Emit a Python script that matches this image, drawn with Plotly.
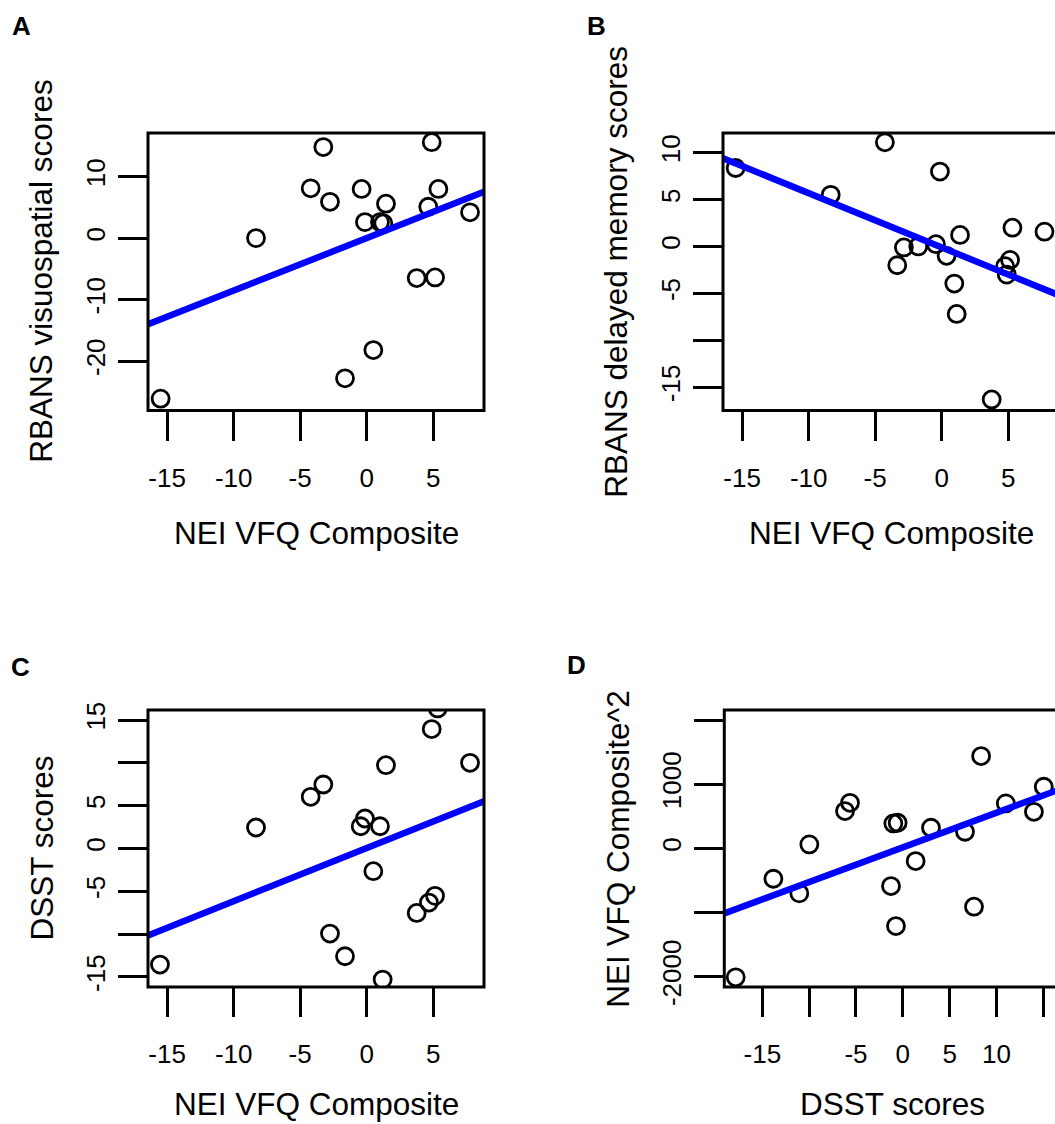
import plotly.graph_objects as go

W, H = 1055, 1124
FONT = "Arial, 'Liberation Sans', Helvetica, sans-serif"

# ---------------- data ----------------
# Panel A: NEI VFQ Composite vs RBANS visuospatial scores
a_x = [-15.49, -8.32, -4.21, -3.26, -2.76, -1.63, -0.38, -0.13, 0.5, 1.0, 1.25, 1.45, 3.76, 4.63, 4.89, 5.14, 5.39, 7.77]
a_y = [-26.1, 0.0, 8.1, 14.8, 5.9, -22.8, 8.0, 2.6, -18.2, 2.6, 2.4, 5.6, -6.5, 5.1, 15.6, -6.4, 8.0, 4.2]
a_fit = [0.0, 0.853]          # intercept, slope

# Panel B: NEI VFQ Composite vs RBANS delayed memory scores
b_x = [-15.49, -8.34, -4.27, -0.13, -3.34, -2.84, -1.76, -0.43, 0.37, 1.38, 0.95, 1.13, 3.76, 5.32, 5.14, 4.77, 4.89, 7.73]
b_y = [8.36, 5.5, 11.1, 7.98, -2.0, -0.1, 0.0, 0.24, -1.0, 1.23, -3.95, -7.19, -16.3, 2.0, -1.43, -2.1, -3.0, 1.58]
b_fit = [-0.1, -0.578]

# Panel C: NEI VFQ Composite vs DSST scores
c_x = [-15.54, -8.32, -4.21, -3.26, -2.76, -1.63, -0.45, -0.13, 0.5, 1.0, 1.2, 1.45, 3.76, 4.68, 4.89, 5.14, 5.34, 7.77]
c_y = [-13.55, 2.45, 6.03, 7.47, -9.93, -12.58, 2.6, 3.5, -2.65, 2.6, -15.3, 9.73, -7.52, -6.31, 13.94, -5.53, 16.35, 10.0]
c_fit = [0.05, 0.62]

# Panel D: DSST scores vs NEI VFQ Composite^2
d_x = [-17.84, -13.82, -11.05, -9.98, -6.17, -5.64, -1.26, -1.01, -0.55, -0.73, 1.37, 3.01, 6.64, 7.6, 8.36, 11.0, 14.0, 15.05]
d_y = [-2009, -473, -701, 62, 581, 710, -587, 389, 399, -1210, -198, 321, 259, -909, 1438, 701, 570, 960]
d_fit = [15.0, 54.0]

# tick values / labels
nei_ticks = [-15, -10, -5, 0, 5]
nei_labels = ["-15", "-10", "-5", "0", "5"]
a_yticks = [-20, -10, 0, 10]
a_ylabels = ["-20", "-10", "0", "10"]
b_yticks = [-15, -10, -5, 0, 5, 10]
b_ylabels = ["-15", "", "-5", "0", "5", "10"]
c_yticks = [-15, -10, -5, 0, 5, 10, 15]
c_ylabels = ["-15", "", "-5", "0", "5", "", "15"]
d_xticks = [-15, -10, -5, 0, 5, 10, 15]
d_xlabels = ["-15", "", "-5", "0", "5", "10", ""]
d_yticks = [-2000, -1000, 0, 1000, 2000]
d_ylabels = ["-2000", "", "0", "1000", ""]

# ---------------- layout (pixel geometry) ----------------
panels = [
    dict(x=a_x, y=a_y, fit=a_fit, xdom=(148, 484), ydom=(133, 410.5),
         xr=(-16.44, 8.82), yr=(-28.03, 17.09),
         xt=(nei_ticks, nei_labels), yt=(a_yticks, a_ylabels),
         xtitle="NEI VFQ Composite", ytitle="RBANS visuospatial scores",
         letter="A", lpos=(21.5, 25.5), open_right=False, xt_off=122),
    dict(x=b_x, y=b_y, fit=b_fit, xdom=(723, 1055), ydom=(133, 410.5),
         xr=(-16.44, 8.52), yr=(-17.48, 12.09),
         xt=(nei_ticks, nei_labels), yt=(b_yticks, b_ylabels),
         xtitle="NEI VFQ Composite", ytitle="RBANS delayed memory scores",
         letter="B", lpos=(596, 25.5), open_right=True, xt_off=122),
    dict(x=c_x, y=c_y, fit=c_fit, xdom=(148, 484), ydom=(710, 987),
         xr=(-16.44, 8.82), yr=(-16.17, 16.17),
         xt=(nei_ticks, nei_labels), yt=(c_yticks, c_ylabels),
         xtitle="NEI VFQ Composite", ytitle="DSST scores",
         letter="C", lpos=(20.5, 667), open_right=False, xt_off=117),
    dict(x=d_x, y=d_y, fit=d_fit, xdom=(724.3, 1055), ydom=(710, 987),
         xr=(-19.06, 16.25), yr=(-2160, 2156),
         xt=(d_xticks, d_xlabels), yt=(d_yticks, d_ylabels),
         xtitle="DSST scores", ytitle="NEI VFQ Composite^2",
         letter="D", lpos=(576.5, 665), open_right=True, xt_off=117),
]

# box width in px for open-right panels (box continues past the page edge)
FULL_BOX_W = 336

fig = go.Figure()
layout = dict(
    width=W, height=H, margin=dict(l=0, r=0, t=0, b=0),
    paper_bgcolor="white", plot_bgcolor="white",
    showlegend=False, font=dict(family=FONT, color="black"),
)
shapes = []
annotations = []

for i, p in enumerate(panels, start=1):
    sx = "" if i == 1 else str(i)
    xa, ya = "x" + sx, "y" + sx
    x0, x1 = p["xdom"]
    y0, y1 = p["ydom"]
    layout["xaxis" + sx] = dict(
        domain=[x0 / W, x1 / W], range=list(p["xr"]), anchor=ya,
        tickmode="array", tickvals=p["xt"][0], ticktext=p["xt"][1],
        ticks="outside", ticklen=29, tickwidth=3, tickcolor="black",
        showgrid=False, zeroline=False, showline=False,
        tickfont=dict(size=26, family=FONT, color="black"),
        ticklabelstandoff=15, automargin=False, fixedrange=True,
    )
    layout["yaxis" + sx] = dict(
        domain=[1 - y1 / H, 1 - y0 / H], range=list(p["yr"]), anchor=xa,
        tickmode="array", tickvals=p["yt"][0], ticktext=p["yt"][1],
        ticks="outside", ticklen=29, tickwidth=3, tickcolor="black",
        showgrid=False, zeroline=False, showline=False, tickangle=-90,
        tickfont=dict(size=26, family=FONT, color="black"),
        ticklabelstandoff=3, automargin=False, fixedrange=True,
    )
    # scatter points
    fig.add_trace(go.Scatter(
        x=p["x"], y=p["y"], mode="markers", xaxis=xa, yaxis=ya,
        marker=dict(symbol="circle-open", size=17, color="black",
                    line=dict(width=2.8, color="black")),
        cliponaxis=True, hoverinfo="skip",
    ))
    # regression line (abline) across the axis range
    b0, b1 = p["fit"]
    lx = [p["xr"][0] - 1, p["xr"][1] + 1]
    ly = [b0 + b1 * v for v in lx]
    fig.add_trace(go.Scatter(
        x=lx, y=ly, mode="lines", xaxis=xa, yaxis=ya,
        line=dict(color="#0000FF", width=6.5), hoverinfo="skip",
    ))
    # box
    right = (FULL_BOX_W / (x1 - x0)) if p["open_right"] else 1
    shapes.append(dict(
        type="rect", xref=xa + " domain", yref=ya + " domain",
        x0=0, x1=right, y0=0, y1=1,
        line=dict(color="black", width=3), layer="above",
    ))
    # axis titles
    bx_left = x0
    bx_center = (x0 + (x0 + FULL_BOX_W)) / 2 if p["open_right"] else (x0 + x1) / 2
    by_center = (y0 + y1) / 2
    annotations.append(dict(
        text=p["xtitle"], xref="paper", yref="paper",
        x=bx_center / W, y=1 - (y1 + p["xt_off"]) / H, xanchor="center", yanchor="middle",
        showarrow=False, font=dict(size=31.5, family=FONT, color="black"),
    ))
    annotations.append(dict(
        text=p["ytitle"], xref="paper", yref="paper",
        x=(bx_left - 107) / W, y=1 - by_center / H, xanchor="center", yanchor="middle",
        textangle=-90, showarrow=False, font=dict(size=31.5, family=FONT, color="black"),
    ))
    # panel letter
    annotations.append(dict(
        text="<b>%s</b>" % p["letter"], xref="paper", yref="paper",
        x=p["lpos"][0] / W, y=1 - p["lpos"][1] / H, xanchor="center", yanchor="middle",
        showarrow=False, font=dict(size=26, family=FONT, color="black"),
    ))

layout["shapes"] = shapes
layout["annotations"] = annotations
fig.update_layout(**layout)
fig.write_html(
    "out.html",
    config={"displayModeBar": False},
    post_script="document.body.style.margin='0';document.body.style.overflow='hidden';",
)
